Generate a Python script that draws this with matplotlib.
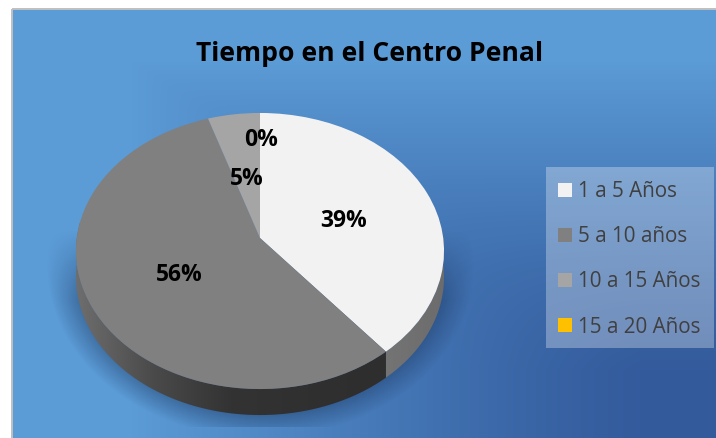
import numpy as np
import matplotlib
matplotlib.use('Agg')
import matplotlib.pyplot as plt
from matplotlib.colors import LinearSegmentedColormap
from matplotlib.patches import Polygon, Rectangle
from matplotlib.transforms import Transform

# --- data ---
TITLE = 'Tiempo en el Centro Penal'
CATEGORIES = ['1 a 5 Años', '5 a 10 años', '10 a 15 Años', '15 a 20 Años']
SHARES = [39, 56, 5, 0]
COLORS = ['#f2f2f2', '#808080', '#a5a5a5', '#ffc000']
LABEL_POS = [(344, 221), (179, 275), (247, 179), (261, 140)]

# --- pie geometry in picture pixels (tilted disc, perspective) ---
CX, CY = 260.0, 238.0
RX, RY, PERSP = 183.2, 114.4, -0.0942
DEPTH = 26
W, H = 716, 438


class TiltTransform(Transform):
    """Unit circle of ax.pie -> tilted disc in pixel coords"""
    input_dims = output_dims = 2

    def transform_non_affine(self, values):
        values = np.asarray(values, dtype=float)
        u, v = values[:, 0], -values[:, 1]
        d = 1 + PERSP * v
        return np.column_stack([CX + RX * u / d, (CY + RY * v) / d])


def rim(t_deg):
    t = np.radians(t_deg)
    return TiltTransform().transform_non_affine(np.column_stack([np.sin(t), np.cos(t)]))


def wall(ax, t1, t2, stops, z):
    """Side of one slice, gradient image clipped to the wall outline"""
    top = rim(np.linspace(t1, t2, 80))
    bottom = top + [0, DEPTH]
    poly = Polygon(np.vstack([top, bottom[::-1]]), closed=True, transform=ax.transData,
                   facecolor='none', edgecolor='none')
    ax.add_patch(poly)
    cmap = LinearSegmentedColormap.from_list('wall', stops)
    x0, x1 = top[:, 0].min(), top[:, 0].max()
    im = ax.imshow(np.linspace(0, 1, 256)[None, :], cmap=cmap, aspect='auto',
                   extent=[x0, x1, H, 0], zorder=z)
    im.set_clip_path(poly)


fig = plt.figure(figsize=(W / 100, H / 100), dpi=100, facecolor='white')
ax = fig.add_axes([0, 0, 1, 1])

wedges, _ = ax.pie(SHARES, colors=COLORS, startangle=90, counterclock=False)
tilt = TiltTransform() + ax.transData
for w in wedges:
    w.set_transform(tilt)
    w.set_zorder(5)
    w.set_linewidth(0)

# background: path gradient towards the lower right corner
yy, xx = np.mgrid[0:H, 0:W]
xn = np.clip((xx - 130) / 510, 1e-3, 1)
yn = np.clip((yy - 60) / 310, 1e-3, 1)
s = (xn ** -6 + yn ** -6) ** (-1 / 6)
bg_cmap = LinearSegmentedColormap.from_list('bg', ['#5b9bd6', '#2f5496'])
ax.imshow(s, cmap=bg_cmap, vmin=0, vmax=1, extent=[0, W, H, 0], aspect='auto', zorder=1,
          interpolation='bilinear')
ax.add_patch(Rectangle((0, 0), 12, H, facecolor='white', edgecolor='none', zorder=1.5))
ax.add_patch(Rectangle((0, 0), W, 9, facecolor='white', edgecolor='none', zorder=1.5))
ax.add_patch(Rectangle((12, 9), W, H, facecolor='none', edgecolor='#bfbfbf', linewidth=1.4, zorder=9))

# soft shadow under the disc
d = np.sqrt(((xx - CX) / 196) ** 2 + ((yy - 265) / 158) ** 2)
a = 0.45 * np.clip((1.09 - d) / 0.15, 0, 1)
a *= np.clip((yy - 230) / 70, 0, 1)
a[yy > 426] = 0
shadow = np.zeros((H, W, 4))
shadow[..., :3] = (0.10, 0.20, 0.36)
shadow[..., 3] = a
ax.imshow(shadow, extent=[0, W, H, 0], aspect='auto', zorder=2)

# side walls, only the slices facing the viewer
edges = 360 * np.cumsum([0] + SHARES) / sum(SHARES)
wall(ax, 85, edges[1], ['#747474', '#6c6c6c'], 3)
wall(ax, edges[1], 277, ['#2e2e2e', '#303030', '#333333', '#4a4a4a', '#6e6e6e'][::-1], 3)

# labels
for share, (x, y) in zip(SHARES, LABEL_POS):
    ax.text(x, y, f'{share}%', ha='center', va='center', family='Open Sans',
            fontweight='bold', fontsize=16.5, color='black', zorder=8)

ax.text(370, 54, TITLE, ha='center', va='center', family='Open Sans',
        fontweight='bold', fontsize=19.1, color='black', zorder=8)

ax.add_patch(Rectangle((546, 167), 168, 181, facecolor='white', edgecolor='none', alpha=0.3, zorder=6))
leg = ax.legend(wedges, CATEGORIES, loc='upper left', bbox_to_anchor=(546, 169),
                bbox_transform=ax.transData, frameon=False,
                prop={'family': 'Open Sans', 'size': 14.9}, labelcolor='#404040',
                handlelength=0.68, handleheight=0.68, handletextpad=0.29,
                labelspacing=1.17, borderpad=0.58, borderaxespad=0)
leg.set_zorder(7)

ax.set_aspect('auto')
ax.set_xlim(0, W)
ax.set_ylim(H, 0)
ax.axis('off')

fig.savefig('out.png', dpi=100, facecolor='white')
